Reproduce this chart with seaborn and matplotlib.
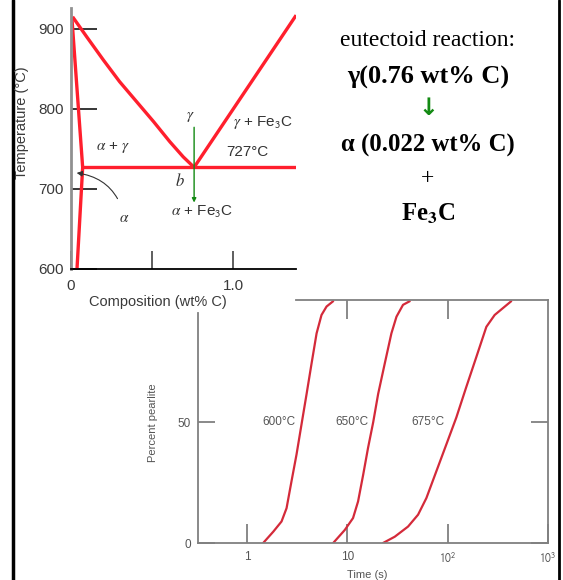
import numpy as np
import pandas as pd
import matplotlib
matplotlib.use("Agg")
import matplotlib.pyplot as plt
import seaborn as sns
from matplotlib.lines import Line2D

# ---------------- data ----------------
# Fe-Fe3C phase diagram (composition wt% C, temperature degC)
alpha_comp = [0.005, 0.072, 0.037]
alpha_temp = [915, 727, 600]
gamma_comp = [0.01, 0.097, 0.20, 0.30, 0.405, 0.51, 0.61, 0.693, 0.76]
gamma_temp = [915, 890, 861, 834, 809, 784, 759, 740, 727]
acm_comp = [0.76, 1.39]
acm_temp = [727, 917]
eutectoid_comp = [0.072, 1.39]
eutectoid_temp = [727, 727]

# Percent pearlite vs time (s)
t600 = [1.45, 1.83, 2.21, 2.48, 2.78, 3.12, 3.50, 3.93, 4.40, 4.94, 5.53, 6.21, 7.23]
p600 = [0, 4.7, 8.9, 14.4, 25.6, 36.7, 49.2, 61.7, 74.2, 86.7, 94.3, 97.8, 100]
t650 = [7.23, 9.44, 11.4, 12.8, 14.4, 16.1, 18.1, 20.3, 23.6, 27.5, 30.9, 35.9, 41.9]
p650 = [0, 5.4, 10.3, 17.2, 28.3, 39.4, 49.9, 61.7, 74.2, 86.7, 93.6, 98.5, 100]
t675 = [22.7, 29.7, 40.3, 50.7, 61.4, 77.2, 97.1, 122, 153, 193, 243, 294, 430]
p675 = [0, 2.6, 6.8, 11.7, 18.6, 29.7, 40.8, 51.9, 64.4, 76.9, 89.4, 94.3, 100]
curve_labels = ["600°C", "650°C", "675°C"]
curve_label_t = [2.08, 11.2, 63.3]

x_ticks = [1, 10, 100, 1000]
x_tick_labels = ["1", "10", r"$\mathsf{10}^\mathsf{2}$", r"$\mathsf{10}^\mathsf{3}$"]

reaction_lines = ["eutectoid reaction:", "γ(0.76 wt% C)", "↓",
                  "α (0.022 wt% C)", "+", r"Fe$_\mathbf{3}$C"]

# ---------------- style ----------------
sns.set_style("white")
plt.rcParams["font.family"] = ["Liberation Sans", "DejaVu Sans"]
plt.rcParams["mathtext.fontset"] = "stix"

W, H = 563, 580
fig = plt.figure(figsize=(W / 100, H / 100), dpi=100)
fig.patch.set_facecolor("white")

def fx(px):
    return px / W

def fy(py):
    return 1 - py / H

# ---------------- pearlite plot ----------------
ax2 = fig.add_axes([fx(198), fy(543), fx(548 - 198), (543 - 300) / H])
ax2.set_xscale("log")
pcol = "#d42a3a"
for t, p in [(t600, p600), (t650, p650), (t675, p675)]:
    df = pd.DataFrame({"t": t, "p": p})
    sns.lineplot(data=df, x="t", y="p", ax=ax2, color=pcol, lw=1.6, sort=False,
                 estimator=None, solid_joinstyle="round")
ax2.set_xlim(0.325, 1000)
ax2.set_ylim(0, 100.5)
for lab, tx in zip(curve_labels, curve_label_t):
    ax2.text(tx, 50, lab, ha="center", va="center", fontsize=8.5, color="#555555")
gcol = "#808080"
for s in ax2.spines.values():
    s.set_color(gcol)
    s.set_linewidth(1.3)
ax2.spines["top"].set_bounds(3.07, 1000)
ax2.spines["left"].set_bounds(0, 95)
ax2.set_xticks(x_ticks)
ax2.set_xticklabels(x_tick_labels)
ax2.xaxis.set_minor_locator(matplotlib.ticker.NullLocator())
ax2.set_yticks([0, 50])
ax2.set_yticklabels(["0", "50"])
ax2.tick_params(axis="x", direction="in", length=14, width=1.3, color=gcol,
                labelcolor="#555555", labelsize=8.5, pad=6, bottom=True)
ax2.tick_params(axis="y", direction="in", length=12, width=1.3, color=gcol,
                labelcolor="#555555", labelsize=8.5, pad=5, left=True, right=True)
ax2.set_xlabel("")
ax2.set_ylabel("")
sec = ax2.secondary_xaxis("top")
sec.set_xticks([10, 100])
sec.set_xticklabels(["", ""])
sec.tick_params(direction="in", length=14, width=1.3, color=gcol)
sec.xaxis.set_minor_locator(matplotlib.ticker.NullLocator())
sec.spines["top"].set_visible(False)
fig.text(fx(367), fy(575), "Time (s)", ha="center", va="center", fontsize=8,
         color="#555555")
fig.text(fx(153), fy(423), "Percent pearlite", ha="center", va="center",
         fontsize=8, color="#555555", rotation=90)

# ---------------- phase diagram ----------------
ax1 = fig.add_axes([fx(71), fy(269), fx(296 - 71), (269 - 8) / H])
ax1.patch.set_alpha(0)
red = "#ff1f2d"
for c, t in [(alpha_comp, alpha_temp), (gamma_comp, gamma_temp),
             (acm_comp, acm_temp), (eutectoid_comp, eutectoid_temp)]:
    df = pd.DataFrame({"c": c, "t": t})
    sns.lineplot(data=df, x="c", y="t", ax=ax1, color=red, lw=2.4, sort=False,
                 estimator=None, solid_capstyle="butt", solid_joinstyle="round")
ax1.set_xlim(0, 1.389)
ax1.set_ylim(600, 926)
ax1.set_xlabel("")
ax1.set_ylabel("")
for s in ["top", "right"]:
    ax1.spines[s].set_visible(False)
ax1.spines["left"].set_color("#909090")
ax1.spines["left"].set_linewidth(2)
ax1.spines["bottom"].set_color("black")
ax1.spines["bottom"].set_linewidth(1.3)
ax1.set_yticks([600, 700, 800, 900])
ax1.set_xticks([0, 0.5, 1.0])
ax1.set_xticklabels(["0", "", "1.0"])
ax1.tick_params(axis="y", direction="in", length=19, width=1.1, color="black",
                labelcolor="#3a3a3a", labelsize=11, pad=5, left=True)
ax1.tick_params(axis="x", direction="in", length=13, width=1.1, color="#333333",
                labelcolor="#3a3a3a", labelsize=11, pad=7, bottom=True)

tc = "#333333"
ax1.text(0.26, 752, r"$\alpha$ + $\gamma$", ha="center", va="center", fontsize=11, color=tc)
ax1.text(0.735, 790, r"$\gamma$", ha="center", va="center", fontsize=11, color=tc)
ax1.text(1.185, 783, r"$\gamma$ + Fe$_\mathsf{3}$C", ha="center", va="center", fontsize=11, color=tc)
ax1.text(1.09, 746, "727°C", ha="center", va="center", fontsize=11, color=tc)
ax1.text(0.67, 711, r"$b$", ha="center", va="center", fontsize=12, color=tc)
ax1.text(0.81, 671, r"$\alpha$ + Fe$_\mathsf{3}$C", ha="center", va="center", fontsize=11, color=tc)
ax1.annotate(r"$\alpha$", xy=(0.035, 720), xytext=(0.33, 664), ha="center",
             va="center", fontsize=11, color=tc,
             arrowprops=dict(arrowstyle="-|>", color="#333333", lw=0.8,
                             connectionstyle="arc3,rad=0.35", shrinkA=7,
                             shrinkB=0, mutation_scale=8))
ax1.annotate("", xy=(0.76, 683), xytext=(0.76, 777),
             arrowprops=dict(arrowstyle="-|>", color="#128a12", lw=1.0,
                             shrinkA=0, shrinkB=0, mutation_scale=6))
fig.text(fx(158), fy(302), "Composition (wt% C)", ha="center", va="center",
         fontsize=10.5, color="#3a3a3a")
fig.text(fx(22), fy(123), "Temperature (°C)", ha="center", va="center",
         fontsize=10.5, color="#3a3a3a", rotation=90)

# ---------------- reaction text ----------------
ys = [41, 77, 108, 145, 179, 214]
for i, (txt, y) in enumerate(zip(reaction_lines, ys)):
    kw = dict(ha="center", va="center", family=["Liberation Serif", "DejaVu Serif"])
    if i == 0:
        fig.text(fx(428), fy(y), txt, fontsize=17, color="black", **kw)
    elif i == 2:
        fig.text(fx(428), fy(y), txt, fontsize=17, color="#138a13",
                 fontweight="bold", ha="center", va="center",
                 family=["DejaVu Sans"])
    elif i == 4:
        fig.text(fx(428), fy(y), txt, fontsize=17, color="black", **kw)
    elif i == 1:
        fig.text(fx(428), fy(y), txt, fontsize=19, color="black",
                 fontweight="bold", **kw)
    else:
        fig.text(fx(428), fy(y), txt, fontsize=17.8, color="black",
                 fontweight="bold", **kw)

# ---------------- page borders ----------------
fig.add_artist(Line2D([fx(13), fx(13)], [0, 1], color="black", lw=2.5,
                      transform=fig.transFigure))
fig.add_artist(Line2D([fx(559), fx(559)], [0, 1], color="black", lw=2,
                      transform=fig.transFigure))

fig.savefig("out.png", dpi=100)
